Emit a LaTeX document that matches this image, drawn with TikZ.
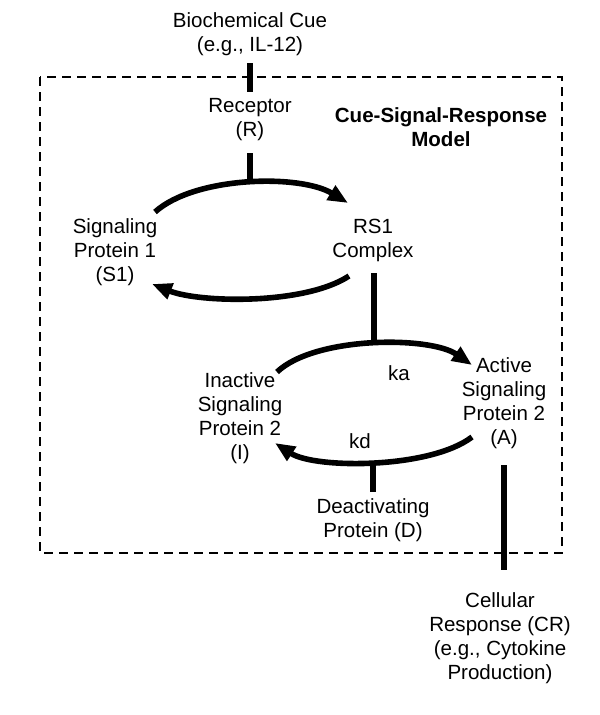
\documentclass[tikz,border=0pt]{standalone}
\usepackage{fontspec}
\setmainfont{Liberation Sans}
\usetikzlibrary{arrows.meta}
\begin{document}
\begin{tikzpicture}[x=0.75pt,y=-0.75pt,
  lbl/.style={inner sep=0pt, align=center, font=\fontsize{15.4}{18}\selectfont},
  thick line/.style={line width=4.2pt},
  flow/.style={line width=4.2pt, -{Triangle[length=15pt,width=12pt]}},
  box/.style={line width=2.2pt, dash pattern=on 6.75pt off 4.5pt}]
\useasboundingbox (0,0) rectangle (600,715);
% dashed frame
\draw[box] (40,77) rectangle (562,553);
% text nodes
\node[lbl] (cue) at (250,34) {Biochemical Cue\\(e.g., IL-12)};
\node[lbl] (rec) at (250,120) {Receptor\\(R)};
\node[lbl, font=\fontsize{15.4}{18}\selectfont\bfseries] (title) at (441,127) {Cue-Signal-Response\\Model};
\node[lbl] (s1) at (115,252) {Signaling\\Protein 1\\(S1)};
\node[lbl] (rs1) at (373,240) {RS1\\Complex};
\node[lbl] (inact) at (240,418) {Inactive\\Signaling\\Protein 2\\(I)};
\node[lbl] (act) at (504,403) {Active\\Signaling\\Protein 2\\(A)};
\node[lbl] (ka) at (399,373) {ka};
\node[lbl] (kd) at (360,441) {kd};
\node[lbl] (deact) at (373,520) {Deactivating\\Protein (D)};
\node[lbl] (cr) at (500,638) {Cellular\\Response (CR)\\(e.g., Cytokine\\Production)};
% coordinates
\coordinate (cueA) at (250,63);
\coordinate (cueB) at (250,92);
\coordinate (recA) at (250,153);
\coordinate (recB) at (250,184);
\coordinate (t1s) at (155,212);
\coordinate (t1e) at (348,203);
\coordinate (b1s) at (349,276);
\coordinate (b1e) at (152,284);
\coordinate (rsA) at (374,273);
\coordinate (rsB) at (374,345);
\coordinate (kas) at (277,372);
\coordinate (kae) at (472,365);
\coordinate (kds) at (472,437);
\coordinate (kde) at (275,443);
\coordinate (dA) at (373,461);
\coordinate (dB) at (373,492);
\coordinate (aA) at (504,465);
\coordinate (aB) at (504,570);
% connectors
\draw[thick line] (cueA) -- (cueB);
\draw[thick line] (recA) -- (recB);
\draw[flow] (t1s) .. controls (195,176) and (300,174) .. (t1e);
\draw[flow] (b1s) .. controls (305,305) and (200,303) .. (b1e);
\draw[thick line] (rsA) -- (rsB);
\draw[flow] (kas) .. controls (315,336) and (430,336) .. (kae);
\draw[flow] (kds) .. controls (430,469) and (315,469) .. (kde);
\draw[thick line] (dA) -- (dB);
\draw[thick line] (aA) -- (aB);
\end{tikzpicture}
\end{document}
